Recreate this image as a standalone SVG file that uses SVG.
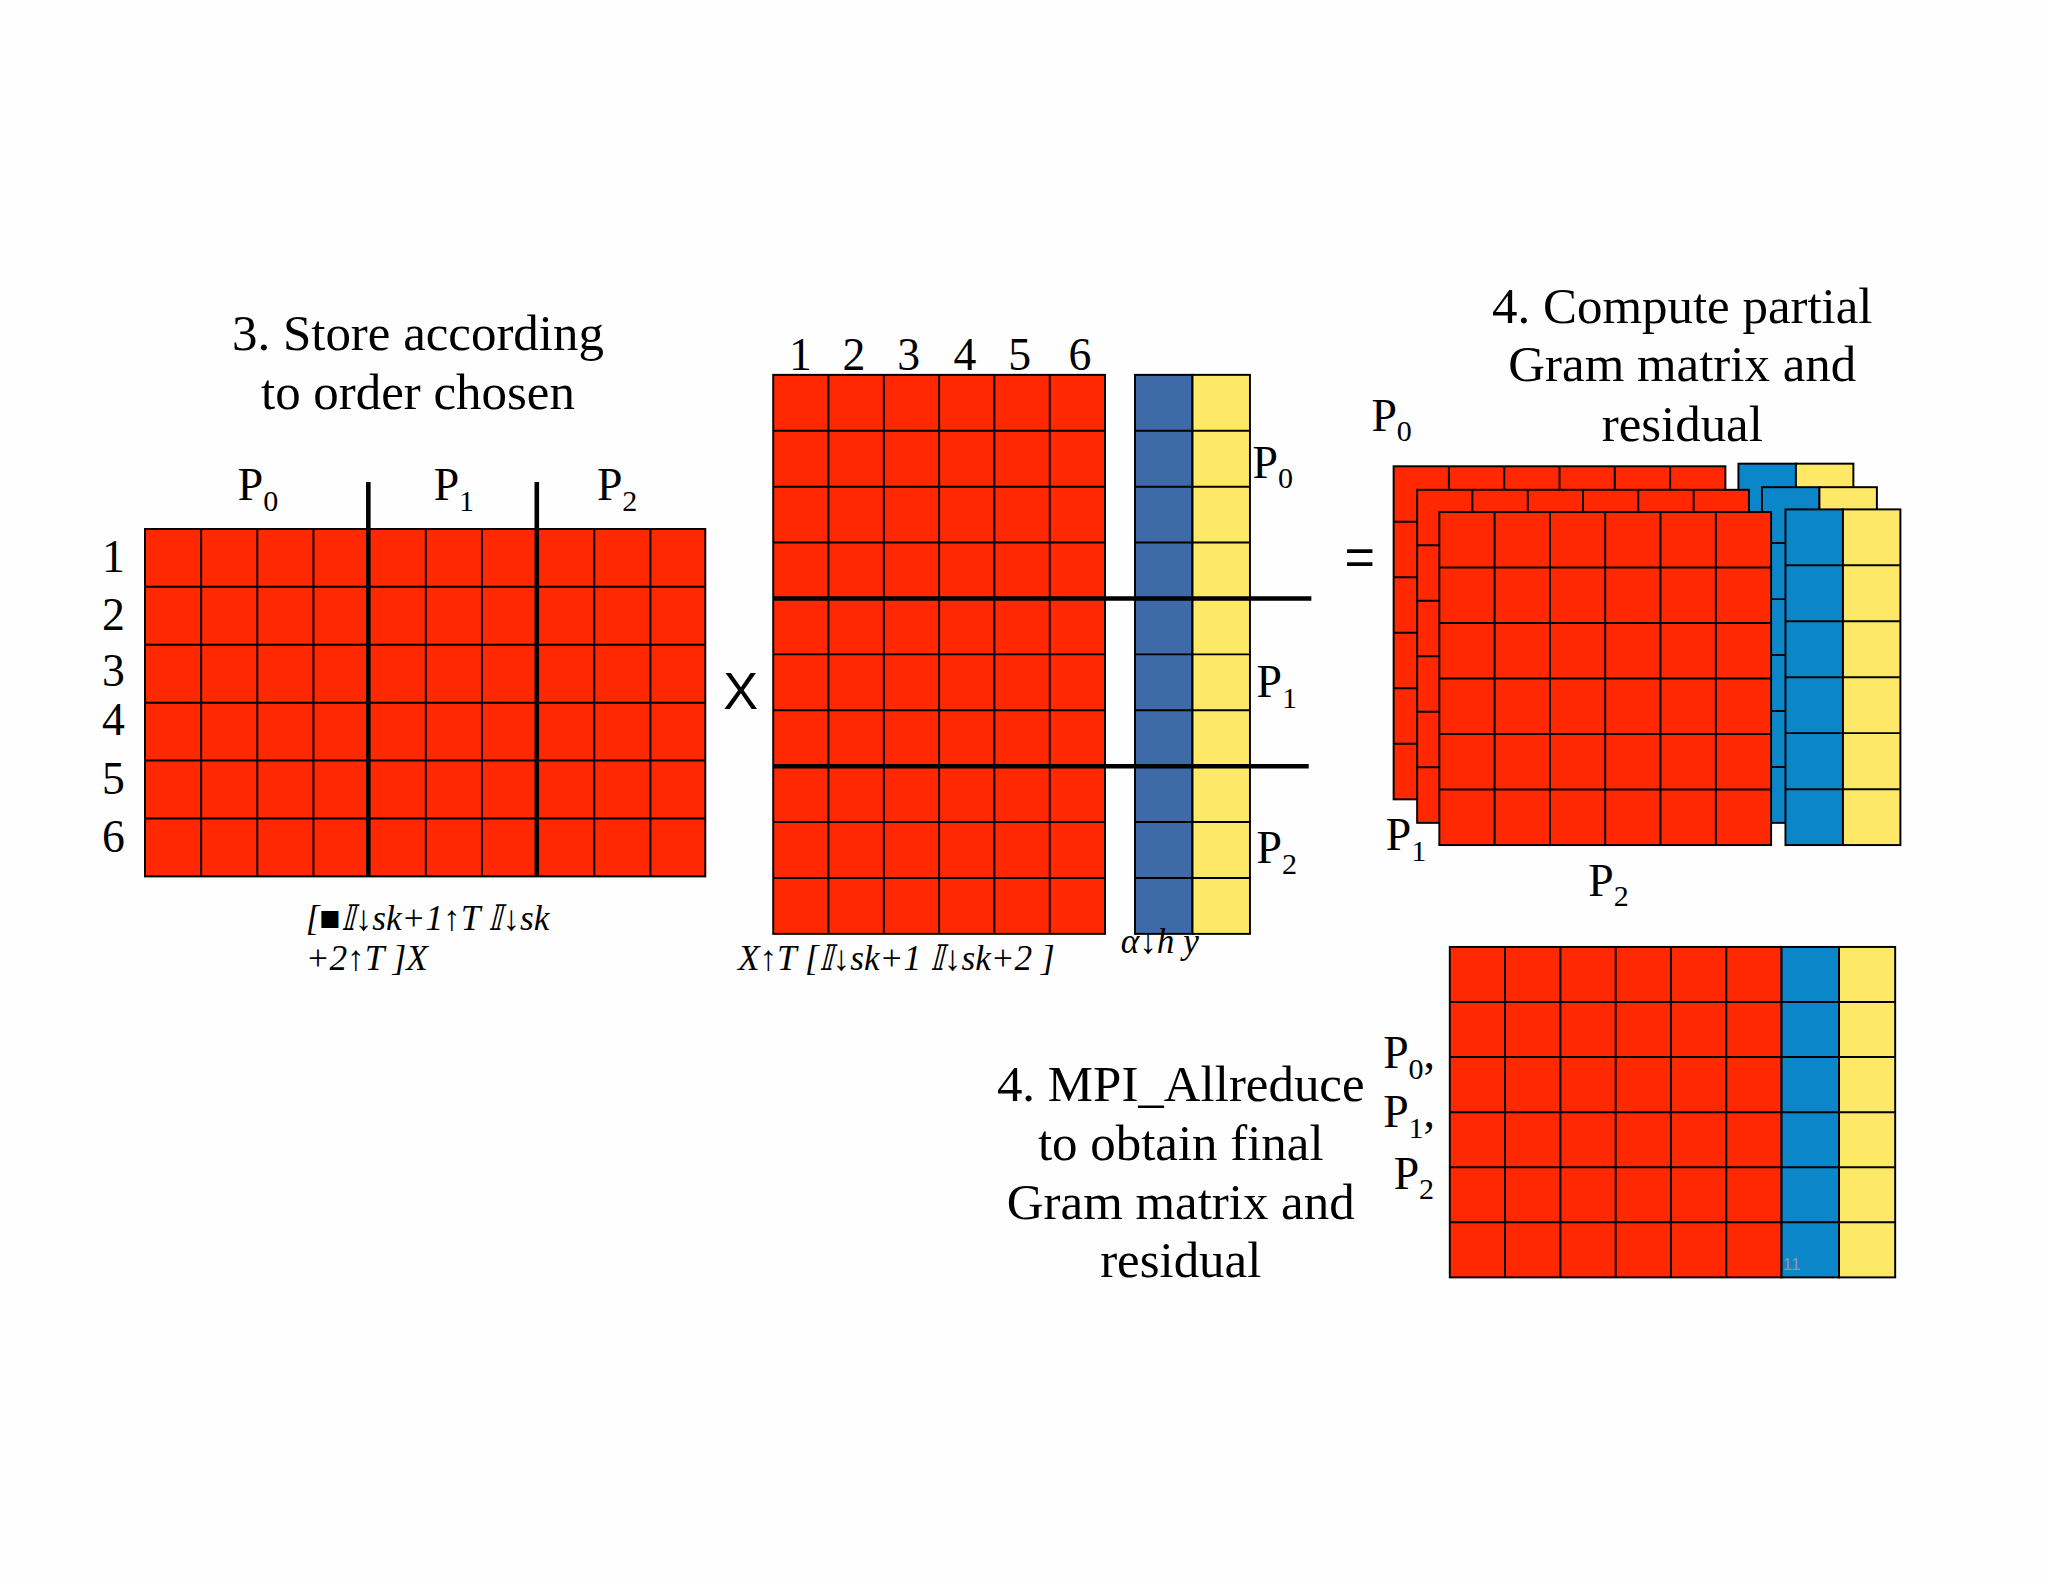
<svg xmlns="http://www.w3.org/2000/svg" width="2048" height="1582" viewBox="0 0 2048 1582">
<style>
.t{font-family:"Liberation Serif","DejaVu Serif",serif;fill:#000}
.title{font-size:39px;text-anchor:middle}
.lab{font-size:35px}
.sub{font-size:23px}
.it{font-family:"Liberation Serif",serif;font-style:italic;font-size:27px}
.red{fill:#ff2800;stroke:#000;stroke-width:1.5}
.blue{fill:#3e6aa8;stroke:#000;stroke-width:1.5}
.blue2{fill:#0a86c9;stroke:#000;stroke-width:1.5}
.yel{fill:#fde868;stroke:#000;stroke-width:1.5}
.g{stroke:#000;stroke-width:1.5;fill:none}
.thick{stroke:#000;stroke-width:3.5;fill:none}
</style>
<defs>
<g id="m6">
<rect class="red" x="0" y="0" width="254" height="255"/>
<path class="g" d="M42.3 0V255M84.7 0V255M127 0V255M169.3 0V255M211.7 0V255M0 42.5H254M0 85H254M0 127.5H254M0 170H254M0 212.5H254"/>
</g>
<g id="c2">
<rect class="blue2" x="0" y="0" width="44" height="257"/>
<rect class="yel" x="44" y="0" width="44" height="257"/>
<path class="g" d="M0 42.8H88M0 85.7H88M0 128.5H88M0 171.3H88M0 214.2H88"/>
</g>
</defs>
<rect width="2048" height="1582" fill="#fefefe"/>
<g transform="scale(1.30612)">
<g id="left">
<text class="t title" x="320" y="268">3. Store according</text>
<text class="t title" x="320" y="313">to order chosen</text>
<rect class="red" x="111" y="405" width="429" height="266"/>
<path class="g" d="M154 405V671M197 405V671M240 405V671M326 405V671M369 405V671M455 405V671M498 405V671M111 449.3H540M111 493.7H540M111 538H540M111 582.3H540M111 626.7H540"/>
<path class="thick" d="M282 369V671M411 369V671"/>
<text class="t lab" x="182" y="383">P<tspan class="sub" dy="8">0</tspan></text>
<text class="t lab" x="332" y="383">P<tspan class="sub" dy="8">1</tspan></text>
<text class="t lab" x="457" y="383">P<tspan class="sub" dy="8">2</tspan></text>
<text class="t lab" x="78" y="438">1</text>
<text class="t lab" x="78" y="482">2</text>
<text class="t lab" x="78" y="525">3</text>
<text class="t lab" x="78" y="563">4</text>
<text class="t lab" x="78" y="608">5</text>
<text class="t lab" x="78" y="652">6</text>
<text class="it" x="234" y="712">[■𝕀↓sk+1↑T 𝕀↓sk</text>
<text class="it" x="234" y="743">+2↑T  ]X</text>
</g>
<text id="times" x="567" y="543" font-family="Liberation Sans,sans-serif" font-size="40" text-anchor="middle">X</text>
<g id="mid">
<rect class="red" x="592" y="287" width="254" height="428"/>
<path class="g" d="M634.3 287V715M676.7 287V715M719 287V715M761.3 287V715M803.7 287V715M592 329.8H846M592 372.6H846M592 415.4H846M592 501H846M592 543.8H846M592 629.4H846M592 672.2H846"/>
<rect class="blue" x="869" y="287" width="44" height="428"/>
<rect class="yel" x="913" y="287" width="44" height="428"/>
<path class="g" d="M869 329.8H957M869 372.6H957M869 415.4H957M869 501H957M869 543.8H957M869 629.4H957M869 672.2H957"/>
<path class="thick" d="M592 458.2H1004M592 586.6H1002"/>
<text class="t lab" x="604" y="283">1</text>
<text class="t lab" x="645" y="283">2</text>
<text class="t lab" x="687" y="283">3</text>
<text class="t lab" x="730" y="283">4</text>
<text class="t lab" x="772" y="283">5</text>
<text class="t lab" x="818" y="283">6</text>
<text class="t lab" x="959" y="366">P<tspan class="sub" dy="8">0</tspan></text>
<text class="t lab" x="962" y="534">P<tspan class="sub" dy="8">1</tspan></text>
<text class="t lab" x="962" y="661">P<tspan class="sub" dy="8">2</tspan></text>
<text class="it" x="565" y="743">X↑T [𝕀↓sk+1 𝕀↓sk+2 ]</text>
<text class="it" x="858" y="730">α↓h y</text>
</g>
<text id="eq" x="1041" y="440" font-family="Liberation Sans,sans-serif" font-size="40" text-anchor="middle">=</text>
<g id="partial">
<text class="t title" x="1288" y="247">4. Compute partial</text>
<text class="t title" x="1288" y="292">Gram matrix and</text>
<text class="t title" x="1288" y="338">residual</text>
<use href="#m6" x="1067" y="357"/>
<use href="#c2" x="1331" y="355"/>
<use href="#m6" x="1085" y="375"/>
<use href="#c2" x="1349" y="373"/>
<use href="#m6" x="1102" y="392"/>
<use href="#c2" x="1367" y="390"/>
<text class="t lab" x="1050" y="330">P<tspan class="sub" dy="8">0</tspan></text>
<text class="t lab" x="1061" y="651">P<tspan class="sub" dy="8">1</tspan></text>
<text class="t lab" x="1216" y="686">P<tspan class="sub" dy="8">2</tspan></text>
</g>
<g id="final">
<text class="t title" x="904" y="843">4. MPI_Allreduce</text>
<text class="t title" x="904" y="888">to obtain final</text>
<text class="t title" x="904" y="933">Gram matrix and</text>
<text class="t title" x="904" y="978">residual</text>
<rect class="red" x="1110" y="725" width="254" height="253"/>
<path class="g" d="M1152.3 725V978M1194.7 725V978M1237 725V978M1279.3 725V978M1321.7 725V978M1110 767.2H1364M1110 809.3H1364M1110 851.5H1364M1110 893.7H1364M1110 935.8H1364"/>
<rect class="blue2" x="1364" y="725" width="44" height="253"/>
<rect class="yel" x="1408" y="725" width="43" height="253"/>
<path class="g" d="M1364 767.2H1451M1364 809.3H1451M1364 851.5H1451M1364 893.7H1451M1364 935.8H1451"/>
<text class="t lab" x="1059" y="818">P<tspan class="sub" dy="8">0</tspan><tspan dy="-8">,</tspan></text>
<text class="t lab" x="1059" y="863">P<tspan class="sub" dy="8">1</tspan><tspan dy="-8">,</tspan></text>
<text class="t lab" x="1067" y="910">P<tspan class="sub" dy="8">2</tspan></text>
<text x="1365" y="972" font-family="Liberation Sans,sans-serif" font-size="13" fill="#8a9aa8">11</text>
</g>
</g>
</svg>
